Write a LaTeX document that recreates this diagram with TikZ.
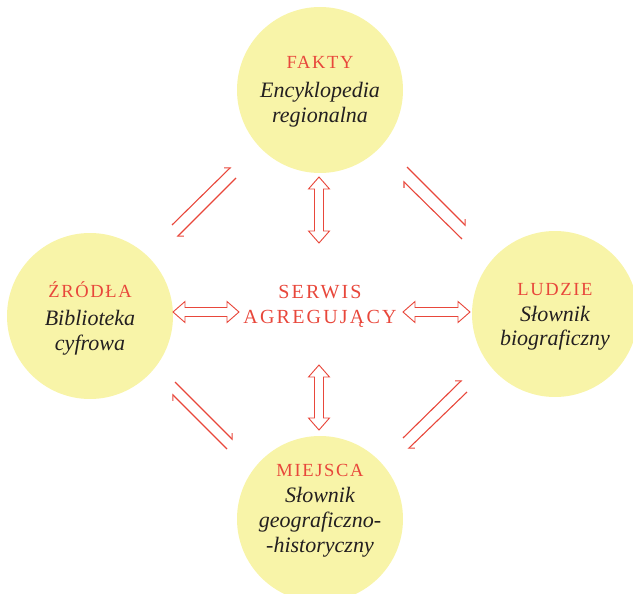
\documentclass[tikz,border=0pt]{standalone}
\usepackage{fontspec}
\setmainfont{Liberation Serif}
\usetikzlibrary{arrows.meta,calc}
\definecolor{redc}{HTML}{E8473B}
\definecolor{yel}{HTML}{F8F4A8}
\definecolor{ink}{HTML}{231F20}
\newcommand{\dblarr}[2]{%
  \draw[dblarrow] (#1)
    -- ($(#1)!12pt!(#2)!10.5pt!90:(#2)$)
    -- ($(#1)!12pt!(#2)!4.5pt!90:(#2)$)
    -- ($(#2)!12pt!(#1)!4.5pt!-90:(#1)$)
    -- ($(#2)!12pt!(#1)!10.5pt!-90:(#1)$)
    -- (#2)
    -- ($(#2)!12pt!(#1)!10.5pt!90:(#1)$)
    -- ($(#2)!12pt!(#1)!4.5pt!90:(#1)$)
    -- ($(#1)!12pt!(#2)!4.5pt!-90:(#2)$)
    -- ($(#1)!12pt!(#2)!10.5pt!-90:(#2)$)
    -- cycle;}
\begin{document}
\begin{tikzpicture}[x=1pt,y=-1pt,
  circ/.style={circle, fill=yel, draw=none, minimum size=166pt, inner sep=0pt},
  head/.style={font=\fontsize{18.5}{18.5}\selectfont\addfontfeature{LetterSpace=9}, text=redc, anchor=base, inner sep=0pt},
  mid/.style={font=\fontsize{20}{20}\selectfont\addfontfeature{LetterSpace=11}, text=redc, anchor=base, inner sep=0pt},
  itl/.style={font=\fontsize{22}{22}\selectfont\itshape, text=ink, anchor=base, inner sep=0pt},
  dblarrow/.style={draw=redc, fill=white, line width=0.9pt, line join=miter},
  harp/.style={draw=redc, line width=1.1pt, -{Straight Barb[left, angle=90:6pt]}}]
\useasboundingbox (0,0) rectangle (633,594);
\clip (0,0) rectangle (633,594);
% circles
\node[circ] (T) at (320,90) {};
\node[circ] (L) at (90,316) {};
\node[circ] (R) at (555,314) {};
\node[circ] (B) at (320,519) {};
% texts
\node[head] (t1) at (320,69) {FAKTY};
\node[itl]  (t2) at (320,98) {Encyklopedia};
\node[itl]  (t3) at (320,123) {regionalna};
\node[head] (l1) at (90,297) {ŹRÓDŁA};
\node[itl]  (l2) at (90,325) {Biblioteka};
\node[itl]  (l3) at (90,350) {cyfrowa};
\node[head] (r1) at (555,295) {LUDZIE};
\node[itl]  (r2) at (555,321) {Słownik};
\node[itl]  (r3) at (555,345) {biograficzny};
\node[head] (b1) at (320,476) {MIEJSCA};
\node[itl]  (b2) at (320,502) {Słownik};
\node[itl]  (b3) at (320,527) {geograficzno-};
\node[itl]  (b4) at (320,552) {-historyczny};
\node[mid]  (c1) at (320,298) {SERWIS};
\node[mid]  (c2) at (320,323) {AGREGUJĄCY};
% double arrows
\coordinate (vt1) at (319,177); \coordinate (vt2) at (319,243);
\coordinate (vb1) at (319,365); \coordinate (vb2) at (319,430);
\coordinate (hl1) at (173,312); \coordinate (hl2) at (239,312);
\coordinate (hr1) at (403,312); \coordinate (hr2) at (470,312);
\dblarr{vt1}{vt2}
\dblarr{vb1}{vb2}
\dblarr{hl1}{hl2}
\dblarr{hr1}{hr2}
% harpoon pairs
\coordinate (tla1) at (172,225); \coordinate (tla2) at (231,167);
\coordinate (tlb1) at (236,178); \coordinate (tlb2) at (177,237);
\coordinate (tra1) at (407,167); \coordinate (tra2) at (466,226);
\coordinate (trb1) at (462,239); \coordinate (trb2) at (403,181);
\coordinate (bla1) at (175,382); \coordinate (bla2) at (233,440);
\coordinate (blb1) at (227,449); \coordinate (blb2) at (172,394);
\coordinate (bra1) at (403,438); \coordinate (bra2) at (462,380);
\coordinate (brb1) at (467,392); \coordinate (brb2) at (408,449);
\draw[harp] (tla1) -- (tla2);
\draw[harp] (tlb1) -- (tlb2);
\draw[harp] (tra1) -- (tra2);
\draw[harp] (trb1) -- (trb2);
\draw[harp] (bla1) -- (bla2);
\draw[harp] (blb1) -- (blb2);
\draw[harp] (bra1) -- (bra2);
\draw[harp] (brb1) -- (brb2);
\end{tikzpicture}
\end{document}
